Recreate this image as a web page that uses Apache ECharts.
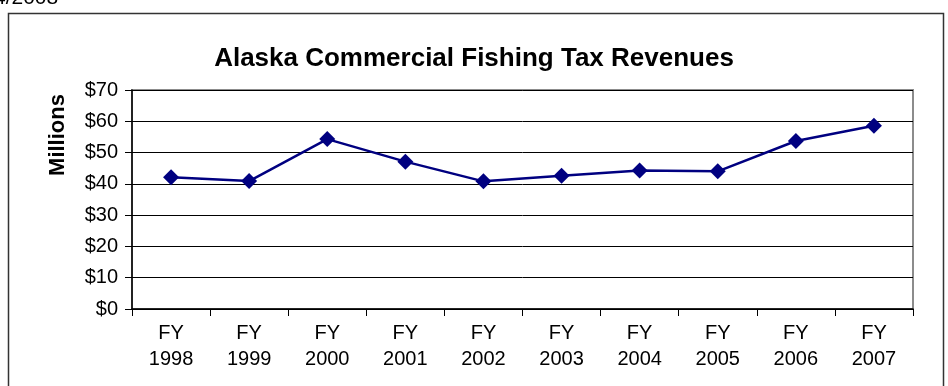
<!DOCTYPE html>
<html><head><meta charset="utf-8">
<script src="https://cdn.jsdelivr.net/npm/echarts@6/dist/echarts.min.js"></script>
<style>html,body{margin:0;padding:0;background:#fff}#c{width:948px;height:386px}</style>
</head><body><div id="c"></div>
<script>
var categories = ['FY\n1998','FY\n1999','FY\n2000','FY\n2001','FY\n2002','FY\n2003','FY\n2004','FY\n2005','FY\n2006','FY\n2007'];
var revenues = [42.1, 40.9, 54.3, 47.1, 40.8, 42.6, 44.3, 44.0, 53.7, 58.6];
var yTicks = [0, 10, 20, 30, 40, 50, 60, 70];
var titleText = 'Alaska Commercial Fishing Tax Revenues';
var yName = 'Millions';
var dateText = '4/2008';

var chart = echarts.init(document.getElementById('c'), null, {renderer:'canvas'});
var F = '"Liberation Sans", Arial, sans-serif';
chart.setOption({
  animation:false,
  backgroundColor:'#fff',
  title:{text:titleText,left:'center',top:41,textStyle:{fontFamily:F,fontSize:26,fontWeight:'bold',color:'#000'}},
  graphic:[
    {type:'rect',shape:{x:8.5,y:13.5,width:935,height:420},style:{fill:'none',stroke:'#333',lineWidth:1.5},z:-1},
    {type:'rect',shape:{x:132,y:90,width:781,height:219},style:{fill:'none',stroke:'#8c8c8c',lineWidth:2},z:0},
    {type:'text',x:-6,y:9,style:{text:dateText,font:'21px '+F,fill:'#000',verticalAlign:'bottom'}},
    {type:'text',x:58,y:135,rotation:Math.PI/2,style:{text:yName,font:'bold 22px '+F,fill:'#000',align:'center',verticalAlign:'middle'}}
  ],
  grid:{left:132,right:35,top:90,bottom:77,show:false},
  xAxis:{type:'category',data:categories,boundaryGap:true,
    axisLine:{show:true,lineStyle:{color:'#000',width:1.5}},
    axisTick:{show:true,length:7,inside:false,lineStyle:{color:'#000'}},
    axisLabel:{fontFamily:F,fontSize:20,color:'#000',lineHeight:26,margin:11},
    splitLine:{show:false}},
  yAxis:{type:'value',min:0,max:70,interval:10,
    axisLine:{show:true,lineStyle:{color:'#000',width:1.5}},
    axisTick:{show:true,length:7,lineStyle:{color:'#000'}},
    axisLabel:{fontFamily:F,fontSize:20,color:'#000',margin:14,formatter:function(v){return yTicks.indexOf(v)>=0?'$'+v:'';}},
    splitLine:{show:true,lineStyle:{color:'#000',width:1}}},
  series:[{type:'line',data:revenues,symbol:'diamond',symbolSize:16,
    lineStyle:{color:'#000080',width:2.5},itemStyle:{color:'#000080'},z:5}]
});
</script></body></html>
